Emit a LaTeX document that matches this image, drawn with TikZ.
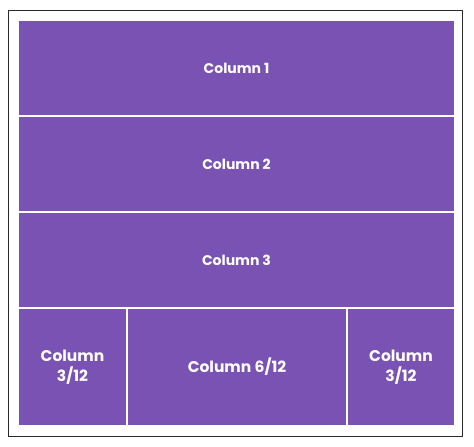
\documentclass[tikz,border=0pt]{standalone}
\usepackage{fontspec}
\setmainfont{Poppins}
\definecolor{colpurple}{HTML}{7952B3}
\definecolor{frameline}{HTML}{2A2A2A}
\begin{document}
\begin{tikzpicture}[x=1pt,y=-1pt,
  cell/.style={draw=white,line width=1.3pt,fill=colpurple,inner sep=0pt,outer sep=0pt,anchor=north west,
    text=white,font=\bfseries\fontsize{14}{15}\selectfont,align=center},
  bigtext/.style={font=\bfseries\fontsize{15.5}{19.5}\selectfont}]
\useasboundingbox (0,0) rectangle (474,447);
\node[draw=frameline,line width=1.3pt,minimum width=454pt,minimum height=426pt,inner sep=0pt,anchor=north west] (frame) at (8,10) {};
\node[cell,minimum width=437pt,minimum height=96pt] (c1) at (18,20) {Column 1};
\node[cell,minimum width=437pt,minimum height=96pt] (c2) at (18,116) {Column 2};
\node[cell,minimum width=437pt,minimum height=96pt] (c3) at (18,212) {Column 3};
\node[cell,bigtext,minimum width=109pt,minimum height=118pt] (c4) at (18,308) {Column\\3/12};
\node[cell,bigtext,minimum width=220pt,minimum height=118pt] (c5) at (127,308) {Column 6/12};
\node[cell,bigtext,minimum width=108pt,minimum height=118pt] (c6) at (347,308) {Column\\3/12};
\end{tikzpicture}
\end{document}
